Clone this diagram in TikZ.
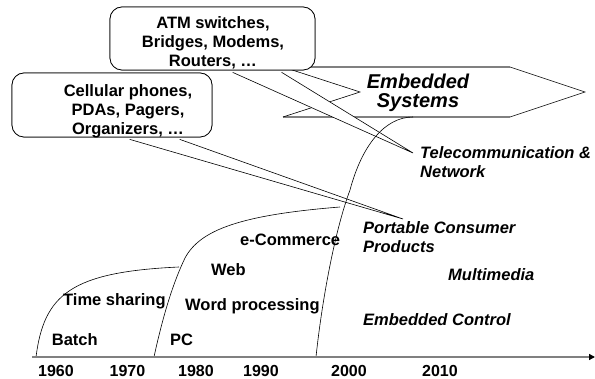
\documentclass[tikz,border=0pt]{standalone}
\usepackage{fontspec}
\setmainfont{Liberation Sans}
\usetikzlibrary{arrows.meta, calc}
\definecolor{axis-grey}{RGB}{128,128,128}
\tikzset{
  era label/.style={font=\fontsize{16.5}{19}\selectfont\bfseries, inner sep=0pt, anchor=base west},
  app label/.style={font=\fontsize{16.5}{19}\selectfont\bfseries\itshape, inner sep=0pt, align=left},
  year label/.style={font=\fontsize{16}{19}\selectfont\bfseries, inner sep=0pt, anchor=base},
  bubble/.style={draw, fill=white, rounded corners=12pt, line width=0.7pt, inner sep=0pt},
  bubble text/.style={font=\fontsize{16.5}{19}\selectfont\bfseries, align=center, inner sep=0pt, anchor=north},
  wedge/.style={draw, fill=white, line width=0.6pt},
  era curve/.style={line width=0.6pt}
}

\begin{document}
\begin{tikzpicture}[x=1pt, y=-1pt]
  \useasboundingbox (0,0) rectangle (595,379);

  % Embedded Systems arrow
  \coordinate (es-tl) at (283,67);
  \coordinate (es-tr) at (510,67);
  \coordinate (es-tip) at (585,92);
  \coordinate (es-br) at (510,117);
  \coordinate (es-bl) at (283,117);
  \coordinate (es-notch) at (360,92);
  \draw[axis-grey, line width=1.2pt] (es-tl) -- (es-tr) (es-bl) -- (es-br);
  \draw[line width=0.6pt] (es-tr) -- (es-tip) -- (es-br);
  \draw[line width=0.6pt] (es-tl) -- (es-notch) -- (es-bl);
  \node[app label, align=center, anchor=north, font=\fontsize{20}{19}\selectfont\bfseries\itshape] (es) at (418,73.5) {Embedded\\Systems};

  % callout: telecom
  \coordinate (tel-tip) at (413,153);
  \node[bubble, minimum width=205pt, minimum height=63pt] (atm) at (212.5,38.5) {};
  \draw[wedge] ($(atm.south west)+(123,2)$) -- (tel-tip) -- ($(atm.south west)+(172,2)$);
  \node[bubble, minimum width=205pt, minimum height=63pt] at (atm) {};
  \node[bubble text] (atm-text) at (213,16.3) {ATM switches,\\Bridges, Modems,\\Routers, …};

  % callout: portable
  \coordinate (port-tip) at (403,219);
  \node[bubble, minimum width=200pt, minimum height=64pt] (cell) at (112,105) {};
  \draw[wedge] ($(cell.south west)+(118,2)$) -- (port-tip) -- ($(cell.south west)+(168,2)$);
  \node[bubble, minimum width=200pt, minimum height=64pt] at (cell) {};
  \node[bubble text] (cell-text) at (128,84.5) {Cellular phones,\\PDAs, Pagers,\\Organizers, …};

  % era curves
  \coordinate (c1-start) at (36,357);
  \coordinate (c1-end) at (179,267);
  \coordinate (c2-start) at (154,357);
  \coordinate (c2-end) at (340,207);
  \coordinate (c3-start) at (316,357);
  \coordinate (c3-end) at (413,117);
  \draw[era curve] (c1-start) .. controls (44,295) and (70,272) .. (c1-end);
  \draw[era curve] (c2-start) .. controls (162,320) and (172,285) .. (185,258)
    .. controls (200,230) and (240,215) .. (c2-end);
  \draw[era curve] (c3-start) .. controls (322,300) and (335,230) .. (350,190)
    .. controls (362,145) and (385,117) .. (c3-end);

  % time axis
  \coordinate (axis-start) at (32,357);
  \coordinate (axis-end) at (595,357);
  \draw[axis-grey, line width=1.3pt, -{Triangle[black, length=6pt, width=6pt]}] (axis-start) -- (axis-end);

  \node[year label] (y1960) at (56,377) {1960};
  \node[year label] (y1970) at (127.5,377) {1970};
  \node[year label] (y1980) at (196,377) {1980};
  \node[year label] (y1990) at (261,377) {1990};
  \node[year label] (y2000) at (349,377) {2000};
  \node[year label] (y2010) at (440,377) {2010};

  % eras
  \node[era label] (batch) at (51.7,346) {Batch};
  \node[era label] (tshare) at (63,306) {Time sharing};
  \node[era label] (pc) at (170,346) {PC};
  \node[era label] (wordp) at (185,310.7) {Word processing};
  \node[era label] (web) at (211,275.7) {Web};
  \node[era label] (ecom) at (240,245.7) {e-Commerce};

  % applications
  \node[app label, anchor=north west] (telecom) at (420,146.5) {Telecommunication \&\\Network};
  \node[app label, anchor=north west] (portable) at (363,221) {Portable Consumer\\Products};
  \node[app label, anchor=base west] (mmedia) at (448,280.7) {Multimedia};
  \node[app label, anchor=base west] (ectrl) at (363,325.7) {Embedded Control};
\end{tikzpicture}
\end{document}
